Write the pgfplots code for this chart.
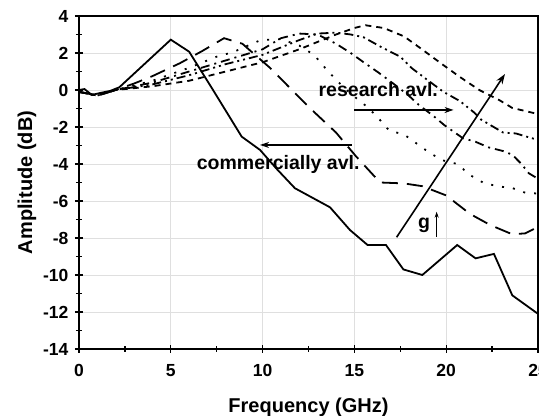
\documentclass[border=0pt]{standalone}
\usepackage{fontspec}
\setmainfont{Liberation Sans}
\usepackage{pgfplots}
\pgfplotsset{compat=1.18}
\usetikzlibrary{arrows.meta}
\begin{document}
\begin{tikzpicture}
\begin{axis}[
  scale only axis, width=459pt, height=333pt,
  xmin=0, xmax=25, ymin=-14, ymax=4,
  xtick={0,5,...,25}, ytick={-14,-12,...,4},
  minor x tick num=1, minor y tick num=1,
  xtick pos=bottom, ytick pos=left,
  tick align=center,
  major tick length=8pt, minor tick length=6pt,
  every tick/.style={black, line width=1.4pt},
  axis line style={line width=1.8pt},
  grid=major,
  major grid style={gray!25, line width=0.8pt},
  /pgf/number format/assume math mode=true,
  tick label style={font=\fontsize{17.5}{19}\selectfont\bfseries},
  xticklabel style={yshift=-8pt},
  yticklabel style={xshift=-3pt},
  label style={font=\fontsize{20}{22}\selectfont\bfseries},
  xlabel={Frequency (GHz)},
  ylabel={Amplitude (dB)},
  xlabel style={at={(axis description cs:0.5,0)}, yshift=-58pt, anchor=center},
  ylabel style={at={(axis description cs:-0.1133,0.5)}, anchor=center},
  clip=false,
  every axis plot/.append style={black, line width=1.8pt},
]
% commercially available (solid)
\addplot[solid] coordinates {(0,0) (0.3,0.05) (0.7,-0.27) (1.2,-0.15) (1.7,-0.05) (2.2,0.15) (5,2.72) (6,2.07) (7.3,0) (8.86,-2.52) (9.86,-3.24) (10.8,-4.3) (11.76,-5.31) (13.67,-6.34) (14.76,-7.57) (15.72,-8.38) (16.72,-8.38) (17.67,-9.7) (18.7,-10.0) (20.6,-8.38) (21.6,-9.1) (22.6,-8.86) (23.6,-11.1) (25,-12.1)};
% A long dash
\addplot[dash pattern=on 16pt off 9pt] coordinates {(0,-0.1) (1,-0.3) (2,0) (3,0.35) (4,0.75) (5.5,1.45) (6.7,2.1) (7.9,2.8) (8.9,2.5) (9.3,2.15) (10.4,1.2) (11.3,0.3) (12.6,-1.0) (14,-2.3) (15.1,-3.6) (16.4,-5.0) (17.7,-5.05) (18.7,-5.2) (20,-5.7) (21.3,-6.7) (22.4,-7.3) (23.6,-7.8) (24.3,-7.75) (25,-7.4)};
% B dotted
\addplot[dash pattern=on 2pt off 9pt] coordinates {(0,-0.1) (1,-0.3) (2,0) (4,0.5) (6,1.2) (7.5,1.8) (8.4,2.05) (9.9,2.7) (11,2.75) (12,2.4) (12.8,1.9) (13.4,1.2) (14.1,0.45) (14.8,-0.2) (15.5,-0.75) (16.2,-1.4) (16.9,-2.2) (17.7,-2.4) (18.4,-2.9) (19.1,-3.4) (19.8,-3.8) (20.6,-4.0) (21.3,-4.6) (22,-5.0) (22.75,-5.2) (23.6,-5.3) (24.3,-5.55) (25,-5.6)};
% C dash dot
\addplot[dash pattern=on 9pt off 5pt on 2pt off 5pt] coordinates {(0,-0.1) (1,-0.3) (2,0) (4,0.4) (6,1.0) (8,1.6) (10,2.2) (11,2.8) (12,3.05) (13,3.0) (14,2.5) (14.8,2.0) (15.5,1.5) (16.3,0.95) (17.1,0.36) (17.9,-0.25) (18.5,-0.8) (19.3,-1.4) (19.9,-1.9) (20.9,-2.6) (21.6,-2.8) (22.3,-3.1) (23.1,-3.3) (23.6,-3.5) (24.1,-4.0) (24.5,-4.5) (25,-4.8)};
% D dash dot dot
\addplot[dash pattern=on 9pt off 4pt on 2pt off 4pt on 2pt off 4pt] coordinates {(0,-0.1) (1,-0.3) (2,0) (4,0.3) (6,0.8) (8,1.4) (10,1.9) (12,2.7) (13,3.05) (14,3.1) (14.8,3.0) (15.5,2.85) (16.5,2.3) (17.5,1.8) (18.1,1.2) (18.9,0.6) (19.85,-0.1) (20.75,-0.6) (21.5,-1.2) (21.9,-1.6) (23.1,-2.3) (23.8,-2.35) (24.3,-2.5) (25,-2.7)};
% E short dash
\addplot[dash pattern=on 6pt off 5pt] coordinates {(0,-0.1) (1,-0.3) (2,0) (4,0.2) (6,0.5) (8,1.0) (10,1.5) (12,2.2) (13,2.6) (14,3.0) (15,3.35) (15.6,3.5) (16.6,3.35) (17.7,2.9) (18.75,2.15) (19.7,1.45) (20.75,0.7) (21.8,0.0) (22.9,-0.55) (23.6,-0.97) (25,-1.3)};
% annotations
\draw[line width=1.4pt, -{Stealth[length=9pt,width=6pt]}] (axis cs:15.0,-1.08) -- (axis cs:20.4,-1.08);
\node[font=\fontsize{19.5}{21}\selectfont\bfseries] at (axis cs:16.3,0.05) {research avl.};
\draw[line width=1.4pt, -{Stealth[length=9pt,width=6pt]}] (axis cs:14.85,-2.97) -- (axis cs:9.86,-2.97);
\node[font=\fontsize{19.5}{21}\selectfont\bfseries] at (axis cs:10.85,-4.0) {commercially avl.};
\draw[line width=1.6pt, -{Stealth[length=10pt,width=7pt]}] (axis cs:17.3,-7.96) -- (axis cs:23.2,0.86);
\node[font=\fontsize{19.5}{21}\selectfont\bfseries] at (axis cs:18.8,-7.3) {g};
\draw[line width=1.2pt, -{Stealth[length=6pt,width=4pt]}] (axis cs:19.48,-7.93) -- (axis cs:19.48,-6.58);
\coordinate (sw) at (rel axis cs:0,0);
\coordinate (ne) at (rel axis cs:1,1);
\end{axis}
\pgfresetboundingbox
\path[use as bounding box] ([xshift=-79pt,yshift=-67pt]sw) rectangle ([xshift=1pt,yshift=16pt]ne);
\end{tikzpicture}
\end{document}
